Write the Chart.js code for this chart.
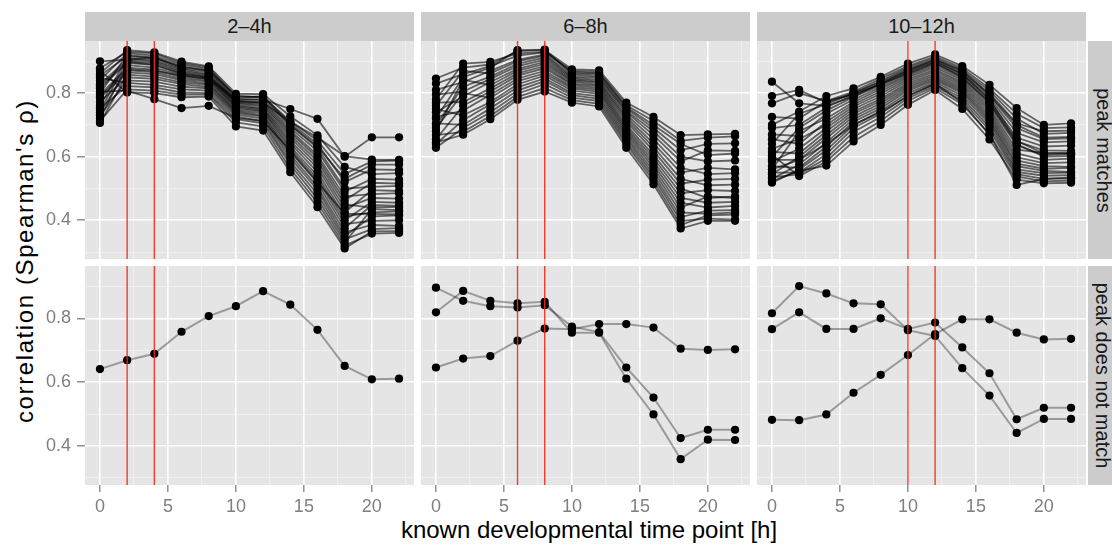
<!DOCTYPE html>
<html>
<head>
<meta charset="utf-8">
<script src="https://cdn.jsdelivr.net/npm/chart.js@4.4.1/dist/chart.umd.min.js"></script>
<style>
body { margin: 0; width: 1112px; height: 545px; overflow: hidden; background: #fff; position: relative; font-family: "Liberation Sans", Arial, sans-serif; }
canvas { position: absolute; }
.strip { position: absolute; background: #cccccc; color: #1a1a1a; font-size: 20px; display: flex; align-items: center; justify-content: center; overflow: hidden; }
.strip span { white-space: nowrap; }
.rstrip span { transform: rotate(90deg); }
.title { position: absolute; color: #000; white-space: nowrap; text-align: center; }
</style>
</head>
<body>
<div class="title" style="left:385px;top:518px;width:408px;font-size:24px;line-height:24px;">known developmental time point [h]</div>
<div class="title" style="left:-175px;top:246px;width:400px;height:30px;font-size:24px;line-height:30px;letter-spacing:1.6px;transform:rotate(-90deg);">correlation (Spearman's ρ)</div>
<script>

// facets
const windows = ['2–4h', '6–8h', '10–12h'];
const rowLabels = ['peak matches', 'peak does not match'];
const peakHours = [[2, 4], [6, 8], [10, 12]];

// known developmental time points [h]
const timePoints = [0, 2, 4, 6, 8, 10, 12, 14, 16, 18, 20, 22];

// axis ticks
const xMajor = [0, 5, 10, 15, 20];
const xMinor = [2.5, 7.5, 12.5, 17.5, 22.5];
const yMajor = [0.4, 0.6, 0.8];
const yMinor = [0.3, 0.5, 0.7, 0.9];

// peak matches, 2-4h
const match24 = [
    [.862,.935,.928,.899,.884,.798,.797,.727,.667,.568,.545,.548],
    [.878,.930,.925,.894,.880,.790,.788,.712,.650,.545,.585,.588],
    [.840,.926,.918,.890,.876,.785,.790,.705,.640,.520,.560,.558],
    [.800,.920,.912,.884,.870,.780,.778,.698,.628,.500,.505,.508],
    [.855,.916,.910,.878,.866,.776,.772,.690,.618,.490,.530,.528],
    [.760,.910,.904,.875,.860,.772,.768,.682,.605,.475,.482,.485],
    [.828,.905,.900,.870,.857,.770,.762,.676,.596,.462,.518,.515],
    [.745,.900,.895,.866,.852,.766,.758,.668,.586,.450,.440,.442],
    [.815,.895,.888,.860,.848,.762,.752,.660,.575,.438,.470,.468],
    [.720,.888,.880,.856,.845,.758,.750,.650,.565,.425,.495,.492],
    [.795,.880,.874,.850,.840,.755,.745,.642,.552,.412,.425,.428],
    [.738,.872,.866,.845,.836,.750,.742,.632,.540,.400,.458,.455],
    [.785,.865,.860,.840,.830,.746,.736,.625,.530,.388,.398,.400],
    [.706,.858,.852,.834,.826,.742,.730,.615,.518,.375,.448,.445],
    [.772,.850,.845,.828,.820,.738,.726,.606,.505,.362,.385,.382],
    [.730,.840,.836,.820,.815,.732,.720,.596,.495,.350,.412,.415],
    [.848,.832,.826,.812,.808,.726,.712,.585,.482,.340,.372,.375],
    [.752,.822,.818,.802,.800,.718,.705,.575,.468,.330,.435,.432],
    [.712,.812,.808,.795,.795,.708,.695,.562,.455,.320,.358,.360],
    [.870,.802,.800,.787,.789,.695,.682,.551,.441,.311,.365,.366],
    [.900,.905,.912,.882,.872,.792,.786,.700,.632,.530,.575,.575],
    [.805,.808,.781,.753,.760,.722,.712,.620,.520,.420,.420,.418],
    [.822,.898,.890,.862,.850,.782,.780,.750,.719,.600,.661,.661],
    [.788,.875,.870,.855,.845,.775,.770,.710,.660,.602,.591,.590]
];

// peak matches, 6-8h
const match68 = [
    [.846,.880,.890,.932,.935,.875,.872,.770,.725,.668,.670,.672],
    [.780,.893,.898,.925,.930,.870,.866,.762,.712,.650,.660,.664],
    [.830,.860,.885,.918,.928,.866,.862,.756,.700,.640,.605,.610],
    [.720,.850,.880,.935,.937,.862,.858,.752,.690,.620,.640,.642],
    [.810,.835,.870,.905,.922,.858,.852,.745,.680,.600,.585,.588],
    [.760,.870,.862,.900,.918,.852,.848,.740,.668,.585,.620,.618],
    [.700,.820,.852,.892,.912,.848,.842,.732,.655,.565,.545,.548],
    [.795,.805,.845,.885,.905,.844,.836,.725,.642,.550,.565,.560],
    [.740,.790,.835,.876,.898,.840,.832,.718,.630,.530,.510,.512],
    [.680,.842,.825,.870,.892,.836,.826,.710,.618,.515,.528,.530],
    [.770,.772,.815,.862,.885,.830,.822,.700,.605,.500,.470,.475],
    [.655,.760,.805,.855,.878,.826,.816,.692,.595,.485,.495,.492],
    [.725,.745,.795,.846,.870,.820,.810,.685,.585,.470,.455,.458],
    [.690,.800,.785,.838,.862,.815,.804,.678,.575,.455,.440,.445],
    [.750,.730,.772,.828,.855,.808,.798,.670,.565,.440,.475,.470],
    [.640,.715,.765,.818,.846,.800,.790,.662,.555,.425,.420,.425],
    [.705,.700,.752,.808,.838,.794,.782,.655,.545,.410,.430,.432],
    [.628,.690,.740,.798,.828,.786,.775,.646,.535,.398,.405,.402],
    [.668,.678,.728,.788,.816,.778,.766,.638,.524,.385,.415,.418],
    [.645,.669,.718,.779,.805,.770,.758,.628,.513,.374,.398,.398]
];

// peak matches, 10-12h
const match1012 = [
    [.700,.742,.791,.815,.851,.893,.922,.885,.826,.753,.700,.705],
    [.725,.720,.775,.805,.845,.885,.915,.878,.815,.735,.690,.692],
    [.640,.735,.765,.800,.838,.880,.910,.872,.808,.720,.672,.675],
    [.690,.700,.755,.795,.830,.872,.905,.865,.800,.705,.680,.682],
    [.600,.690,.745,.788,.824,.866,.898,.860,.792,.690,.655,.658],
    [.670,.665,.735,.780,.818,.860,.892,.855,.785,.675,.645,.648],
    [.560,.680,.720,.772,.812,.855,.886,.848,.776,.660,.632,.635],
    [.655,.640,.710,.765,.805,.850,.880,.842,.768,.648,.620,.618],
    [.625,.655,.700,.758,.798,.844,.874,.836,.760,.636,.605,.608],
    [.585,.625,.690,.750,.790,.838,.868,.830,.752,.622,.612,.610],
    [.615,.610,.680,.742,.782,.832,.862,.824,.744,.610,.590,.594],
    [.545,.600,.668,.735,.775,.826,.856,.818,.736,.598,.580,.582],
    [.590,.590,.658,.726,.768,.820,.850,.812,.728,.588,.570,.568],
    [.530,.575,.645,.718,.760,.814,.845,.806,.720,.578,.562,.565],
    [.570,.565,.632,.710,.752,.808,.840,.800,.712,.570,.555,.552],
    [.518,.560,.620,.700,.744,.800,.834,.792,.704,.560,.548,.550],
    [.550,.550,.608,.690,.735,.792,.828,.784,.694,.552,.540,.542],
    [.535,.545,.595,.678,.725,.784,.822,.776,.684,.545,.530,.532],
    [.605,.539,.585,.662,.712,.775,.816,.765,.670,.538,.522,.525],
    [.522,.555,.572,.648,.700,.763,.810,.750,.654,.528,.516,.518],
    [.836,.768,.760,.790,.830,.870,.900,.860,.780,.650,.610,.612],
    [.791,.810,.770,.800,.835,.875,.905,.870,.795,.700,.660,.662],
    [.768,.800,.775,.795,.828,.862,.895,.850,.770,.640,.600,.602],
    [.560,.590,.640,.700,.740,.790,.830,.770,.670,.511,.530,.535]
];

// peak does not match
const noMatch24 = [
    [.641,.669,.689,.758,.807,.838,.885,.843,.764,.651,.609,.611]
];
const noMatch68 = [
    [.896,.855,.838,.834,.841,.774,.757,.646,.552,.425,.451,.451],
    [.819,.886,.855,.847,.852,.755,.755,.611,.499,.359,.420,.419],
    [.646,.674,.682,.730,.768,.766,.782,.782,.771,.705,.701,.703]
];
const noMatch1012 = [
    [.816,.901,.878,.847,.844,.763,.745,.644,.558,.441,.485,.485],
    [.766,.819,.767,.767,.800,.767,.787,.709,.628,.484,.520,.520],
    [.482,.481,.499,.567,.623,.685,.751,.797,.797,.755,.734,.736]
];

const panels = [
    [match24, match68, match1012],
    [noMatch24, noMatch68, noMatch1012]
];

// layout
const panelLeft = [85, 421, 757];
const panelTop = [41, 266];
const panelW = 329;
const panelH = [218, 219];
const yAxisW = 50;
const xAxisH = 36;
const tickFont = { family: '"Liberation Sans", Arial, sans-serif', size: 18 };

function isIn(v, list) {
    return list.some(t => Math.abs(t - v) < 1e-6);
}

function noPad(s) {
    s.paddingTop = 0;
    s.paddingBottom = 0;
    s.paddingLeft = 0;
    s.paddingRight = 0;
}

const panelBg = {
    id: 'panelBg',
    beforeDraw(chart) {
        let a = chart.chartArea;
        let ctx = chart.ctx;
        ctx.save();
        ctx.fillStyle = '#e5e5e5';
        ctx.fillRect(a.left, a.top, a.right - a.left, a.bottom - a.top);
        ctx.restore();
    }
};

const peakMarks = {
    id: 'peakMarks',
    afterDatasetsDraw(chart, args, opts) {
        let a = chart.chartArea;
        let ctx = chart.ctx;
        ctx.save();
        ctx.strokeStyle = 'rgba(248,40,25,0.9)';
        ctx.lineWidth = 1.4;
        opts.hours.forEach(h => {
            let px = chart.scales.x.getPixelForValue(h);
            ctx.beginPath();
            ctx.moveTo(px, a.top);
            ctx.lineTo(px, a.bottom);
            ctx.stroke();
        });
        ctx.restore();
    }
};

function makeStrip(text, left, top, w, h, right) {
    let d = document.createElement('div');
    d.className = right ? 'strip rstrip' : 'strip';
    d.style.left = left + 'px';
    d.style.top = top + 'px';
    d.style.width = w + 'px';
    d.style.height = h + 'px';
    let s = document.createElement('span');
    s.textContent = text;
    d.appendChild(s);
    document.body.appendChild(d);
}

windows.forEach((w, c) => makeStrip(w, panelLeft[c], 12, panelW, 29, false));
rowLabels.forEach((l, r) => makeStrip(l, 1088, panelTop[r], 30, panelH[r], true));

panels.forEach((row, r) => {
    row.forEach((series, c) => {

        let showY = c === 0;
        let showX = r === 1;
        let w = panelW + (showY ? yAxisW : 0);
        let h = panelH[r] + (showX ? xAxisH : 0);

        let cv = document.createElement('canvas');
        cv.width = w;
        cv.height = h;
        cv.style.left = (panelLeft[c] - (showY ? yAxisW : 0)) + 'px';
        cv.style.top = panelTop[r] + 'px';
        document.body.appendChild(cv);

        let lineColor = r === 0 ? 'rgba(0,0,0,0.58)' : 'rgba(0,0,0,0.33)';
        let lineW = r === 0 ? 1.8 : 2;

        let datasets = series.map(s => ({
            data: timePoints.map((t, i) => ({ x: t, y: s[i] })),
            borderColor: lineColor,
            borderWidth: lineW,
            pointRadius: 4.1,
            pointBackgroundColor: '#000',
            pointBorderWidth: 0,
            tension: 0
        }));

        new Chart(cv, {
            type: 'line',
            data: { datasets: datasets },
            options: {
                responsive: false,
                animation: false,
                events: [],
                layout: { padding: 0, autoPadding: false },
                plugins: {
                    legend: { display: false },
                    tooltip: { enabled: false },
                    peakMarks: { hours: peakHours[c] }
                },
                scales: {
                    x: {
                        type: 'linear',
                        min: -1.1,
                        max: 23.1,
                        afterBuildTicks: s => { s.ticks = xMajor.concat(xMinor).sort((a, b) => a - b).map(v => ({ value: v })); },
                        afterFit: s => { s.height = showX ? xAxisH : 0; noPad(s); },
                        border: { display: false },
                        grid: {
                            color: ctx => ctx.tick && isIn(ctx.tick.value, xMajor) ? '#ffffff' : '#f2f2f2',
                            lineWidth: ctx => ctx.tick && isIn(ctx.tick.value, xMajor) ? 1.6 : 0.8,
                            drawTicks: showX,
                            tickLength: 7,
                            tickWidth: 1.3,
                            tickColor: ctx => ctx.tick && isIn(ctx.tick.value, xMajor) ? '#7f7f7f' : 'rgba(0,0,0,0)'
                        },
                        ticks: {
                            display: showX,
                            autoSkip: false,
                            maxRotation: 0,
                            padding: 4,
                            color: '#7f7f7f',
                            font: tickFont,
                            callback: v => isIn(v, xMajor) ? String(v) : ''
                        }
                    },
                    y: {
                        type: 'linear',
                        min: 0.278,
                        max: 0.964,
                        afterBuildTicks: s => { s.ticks = yMajor.concat(yMinor).sort((a, b) => a - b).map(v => ({ value: v })); },
                        afterFit: s => { s.width = showY ? yAxisW : 0; noPad(s); },
                        border: { display: false },
                        grid: {
                            color: ctx => ctx.tick && isIn(ctx.tick.value, yMajor) ? '#ffffff' : '#f2f2f2',
                            lineWidth: ctx => ctx.tick && isIn(ctx.tick.value, yMajor) ? 1.6 : 0.8,
                            drawTicks: showY,
                            tickLength: 8,
                            tickWidth: 1.3,
                            tickColor: ctx => ctx.tick && isIn(ctx.tick.value, yMajor) ? '#7f7f7f' : 'rgba(0,0,0,0)'
                        },
                        ticks: {
                            display: showY,
                            autoSkip: false,
                            padding: 6,
                            color: '#7f7f7f',
                            font: tickFont,
                            callback: v => isIn(v, yMajor) ? v.toFixed(1) : ''
                        }
                    }
                }
            },
            plugins: [panelBg, peakMarks]
        });
    });
});

</script>
</body>
</html>
